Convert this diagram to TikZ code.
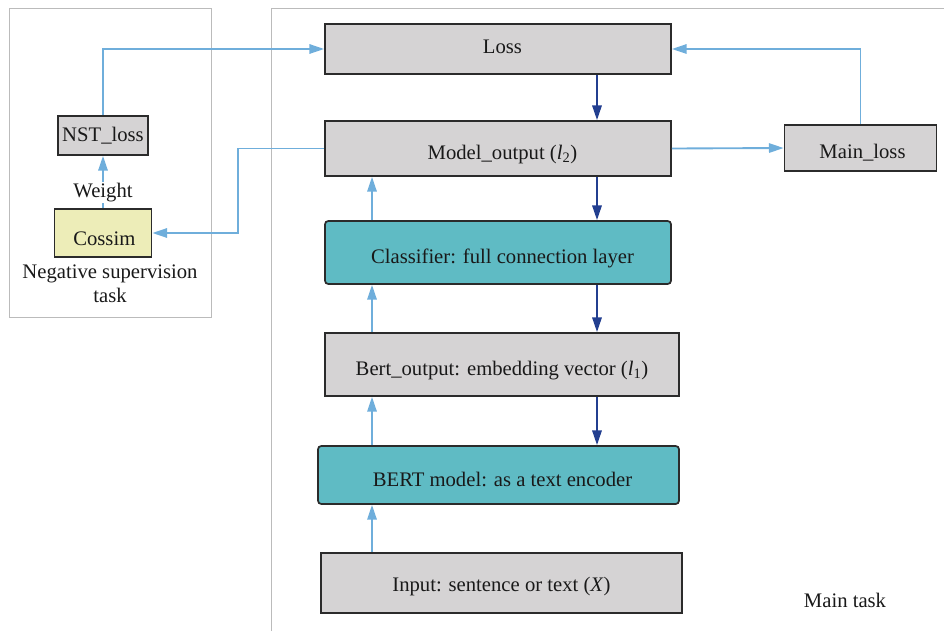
\documentclass[tikz,border=0pt]{standalone}
\usepackage{fontspec}
\setmainfont{Liberation Serif}
\usetikzlibrary{arrows.meta,calc}
\definecolor{boxgrey}{HTML}{D5D3D4}
\definecolor{teal2}{HTML}{5FBBC4}
\definecolor{yel}{HTML}{EDEDB8}
\definecolor{lblue}{HTML}{6FAEDB}
\definecolor{dblue}{HTML}{233F90}
\definecolor{frame}{HTML}{BBBBBB}
\definecolor{edge}{HTML}{2B2B2B}
\tikzset{
  blk/.style={draw=edge, line width=1.3pt, inner sep=0pt, text depth=0pt, font=\rmfamily\fontsize{15.5}{18}\selectfont, text=black!90},
  greyblk/.style={blk, fill=boxgrey},
  tealblk/.style={blk, fill=teal2, rounded corners=2.5pt},
  yelblk/.style={blk, fill=yel},
  lb/.style={draw=lblue, line width=1.4pt, -{Triangle[length=11pt,width=7pt]}},
  db/.style={draw=dblue, line width=1.5pt, -{Triangle[length=11pt,width=7pt]}},
  lbl/.style={font=\rmfamily\fontsize{15.5}{18}\selectfont, text=black!90}
}
\newcommand{\shr}[1]{\hspace*{#1}}
\begin{document}
\begin{tikzpicture}[x=0.75pt,y=-0.75pt]
\useasboundingbox (0,0) rectangle (944,631);
% frames
\draw[frame, line width=0.7pt] (9,8) rectangle (211,317);
\draw[frame, line width=0.7pt] (271,631) -- (271,8) -- (944,8);
% main column
\node[greyblk, minimum width=259.5pt, minimum height=37.5pt, text height=7.5pt] (loss) at (498,49) {\shr{6.75pt}Loss};
\node[greyblk, minimum width=259.5pt, minimum height=41.25pt, text height=16.5pt] (mo) at (498,148.5) {\shr{6.75pt}Model\_output (\textit{l}\textsubscript{2})};
\node[tealblk, minimum width=259.5pt, minimum height=47.25pt, text height=16.5pt] (cls) at (498,252.5) {\shr{6.75pt}Classifier: full connection layer};
\node[greyblk, minimum width=265.5pt, minimum height=47.25pt, text height=16.2pt] (bo) at (502,364.5) {Bert\_output: embedding vector (\textit{l}\textsubscript{1})};
\node[tealblk, minimum width=270.75pt, minimum height=43.5pt, text height=16.8pt] (bert) at (498.5,475) {\shr{6pt}BERT model: as a text encoder};
\node[greyblk, minimum width=270.75pt, minimum height=45pt, text height=12.9pt] (inp) at (501.5,583) {Input: sentence or text (\textit{X})};
\node[greyblk, minimum width=114pt, minimum height=34.5pt, text height=15pt] (ml) at (860.5,148) {\shr{3pt}Main\_loss};
% left column
\node[greyblk, minimum width=67.5pt, minimum height=29.25pt, text height=8.85pt] (nst) at (103,135.5) {NST\_loss};
\node[yelblk, minimum width=72.75pt, minimum height=36pt, text height=18pt] (cos) at (103,233) {\shr{2pt}Cossim};
\node[lbl, align=center] (neg) at (110,284) {Negative supervision\\task};
\node[lbl] (mt) at (845,600) {Main task};
% helper coordinates
\coordinate (dx) at (597,0);
\coordinate (ux) at (372,0);
\coordinate (jx) at (238,0);
% dark blue downward arrows
\draw[db] (loss.south -| dx) -- (mo.north -| dx);
\draw[db] (mo.south -| dx) -- (cls.north -| dx);
\draw[db] (cls.south -| dx) -- (bo.north -| dx);
\draw[db] (bo.south -| dx) -- (bert.north -| dx);
% light blue upward arrows
\draw[lb] (inp.north -| ux) -- (bert.south -| ux);
\draw[lb] (bert.north -| ux) -- (bo.south -| ux);
\draw[lb] (bo.north -| ux) -- (cls.south -| ux);
\draw[lb] (cls.north -| ux) -- (mo.south -| ux);
% side connections
\draw[lb] (mo.east) -- (ml.west);
\draw[lb] (ml.north) |- (loss.east);
\draw[lb] (nst.north) |- (loss.west);
\draw[lb] (mo.west) -- (mo.west -| jx) -- (cos.east -| jx) -- (cos.east);
\draw[lb] (cos.north) -- node[pos=0.3, fill=white, inner sep=1pt, lbl] (w) {Weight} (nst.south);
\end{tikzpicture}
\end{document}
